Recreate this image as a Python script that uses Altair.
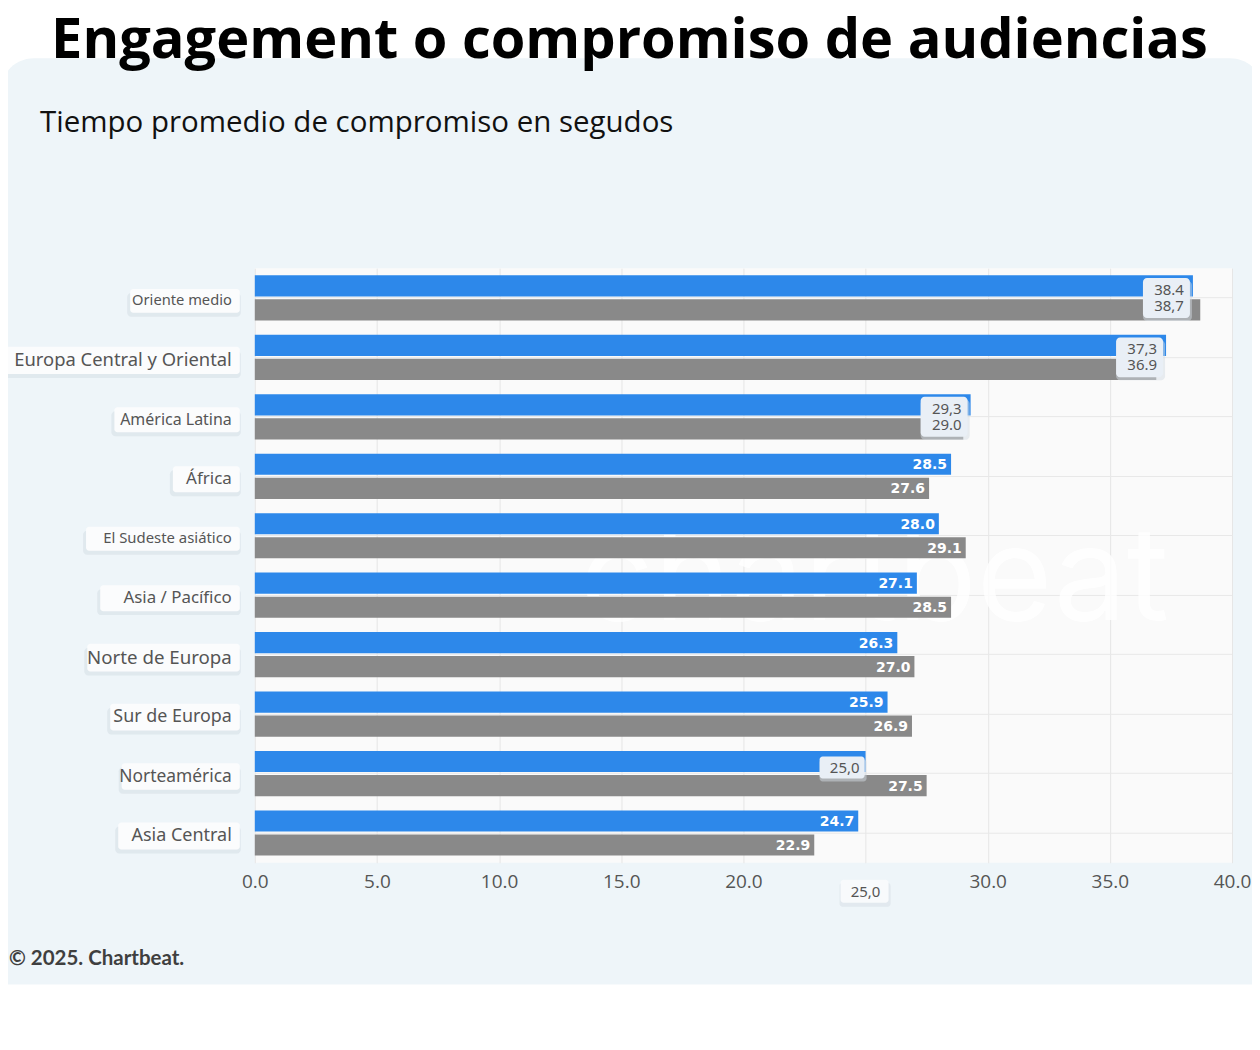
import altair as alt
import pandas as pd

# ---------------- data ----------------
categories = [
    "Oriente medio", "Europa Central y Oriental", "América Latina", "África",
    "El Sudeste asiático", "Asia / Pacífico", "Norte de Europa", "Sur de Europa",
    "Norteamérica", "Asia Central",
]
blue_values = [38.4, 37.3, 29.3, 28.5, 28.0, 27.1, 26.3, 25.9, 25.0, 24.7]
gray_values = [38.7, 36.9, 29.0, 27.6, 29.1, 28.5, 27.0, 26.9, 27.5, 22.9]
blue_labels = ["38.4", "37,3", "29,3", "28.5", "28.0", "27.1", "26.3", "25.9", "25,0", "24.7"]
gray_labels = ["38,7", "36.9", "29.0", "27.6", "29.1", "28.5", "27.0", "26.9", "27.5", "22.9"]
series = ["Serie A", "Serie B"]
x_ticks = [0, 5, 10, 15, 20, 25, 30, 35, 40]
override_tick_value = 25
override_tick_label = "25,0"

title_text = "Engagement o compromiso de audiencias"
subtitle_text = "Tiempo promedio de compromiso en segudos"
footer_text = "© 2025. Chartbeat."
watermark_text = "chartbeat"

# ---------------- style ----------------
W, H = 978, 595
PX = W / 40.0
BLUE, GRAY = "#2d88ea", "#898989"
PANEL = "#eef5f9"
boxed_pairs = ["Oriente medio", "Europa Central y Oriental", "América Latina"]
boxed_single_blue = ["Norteamérica"]
# font size of each category tag (the tags in the picture differ in size)
label_font_sizes = [14.7, 18.4, 16, 17, 14.9, 16.9, 18.7, 17.9, 17.4, 18]
CHAR_EM = 0.48  # approx average glyph width (em) for the tag font

rows = []
for c, bv, gv, bl, gl in zip(categories, blue_values, gray_values, blue_labels, gray_labels):
    boxed_b = c in boxed_pairs or c in boxed_single_blue
    boxed_g = c in boxed_pairs
    rows.append(dict(categoria=c, serie=series[0], valor=bv, etiqueta=bl, dentro=not boxed_b, ancla=bv,
                     par=c in boxed_pairs))
    rows.append(dict(categoria=c, serie=series[1], valor=gv, etiqueta=gl, dentro=not boxed_g, ancla=bv,
                     par=c in boxed_pairs))
df = pd.DataFrame(rows)

cat_df = pd.DataFrame({"categoria": categories})
cat_df["fs"] = label_font_sizes
cat_df["box_l"] = [-(23 + len(c) * CHAR_EM * fs + 10) / PX for c, fs in zip(categories, label_font_sizes)]
cat_df["box_r"] = -15 / PX
cat_df["bh"] = [fs + 9 for fs in label_font_sizes]

one = pd.DataFrame({"v": [override_tick_value], "lab": [override_tick_label]})

Y = alt.Y(
    "categoria:N", sort=categories, title=None,
    scale=alt.Scale(paddingInner=0.24, paddingOuter=0.12),
    axis=alt.Axis(labels=False, ticks=False, domain=False, grid=True, bandPosition=0.5,
                  gridColor="#e8e8e8", title=None),
)
X = alt.X(
    "valor:Q", title=None,
    scale=alt.Scale(domain=[0, 40], nice=False, zero=True),
    axis=alt.Axis(values=x_ticks, grid=True, gridColor="#e6e6e6", domain=False, ticks=False,
                  labelExpr="datum.value == 25 ? '' : format(datum.value, '.1f')",
                  labelFontSize=19, labelColor="#555555", labelFont="Open Sans",
                  labelFlush=False, labelPadding=10, title=None),
)
YOFF = alt.YOffset("serie:N", sort=series, scale=alt.Scale(paddingInner=0.12, paddingOuter=0))

base_one = alt.Chart(one)

# decorations outside plot
white_top = base_one.mark_rect(color="white").encode(
    x=alt.value(-260), x2=alt.value(1010), y=alt.value(-270), y2=alt.value(-195))
panel_top = base_one.mark_rect(color=PANEL, cornerRadius=34).encode(
    x=alt.value(-255), x2=alt.value(1010), y=alt.value(-210), y2=alt.value(-100))
white_bottom = base_one.mark_rect(color="white").encode(
    x=alt.value(-260), x2=alt.value(1010), y=alt.value(717), y2=alt.value(800))

watermark = base_one.mark_text(align="right", baseline="alphabetic", font="Inter", fontSize=130,
                               color="white", opacity=0.85, text=watermark_text).encode(
    x=alt.value(915), y=alt.value(352))

bars = alt.Chart(df).mark_bar().encode(
    x=X, y=Y, yOffset=YOFF,
    color=alt.Color("serie:N", scale=alt.Scale(domain=series, range=[BLUE, GRAY]), legend=None),
)

inside = alt.Chart(df).transform_filter("datum.dentro").mark_text(
    align="right", baseline="middle", dx=-4, dy=1, color="white", fontWeight="bold",
    font="DejaVu Sans", fontSize=14).encode(
    x=alt.X("valor:Q"), y=Y, yOffset=YOFF, text="etiqueta:N")

pair_src = alt.Chart(df).transform_filter("datum.par")
pair_shadow = pair_src.transform_filter(alt.datum.serie == series[0]).mark_bar(
    height=40, xOffset=-50, x2Offset=-1, yOffset=3, cornerRadius=4, color="#d3dbe3", opacity=0.5).encode(
    x=alt.X("ancla:Q"), x2="ancla:Q", y=Y)
pair_box = pair_src.transform_filter(alt.datum.serie == series[0]).mark_bar(
    height=40, xOffset=-50, x2Offset=-3, cornerRadius=4, color="#e9eff6").encode(
    x=alt.X("ancla:Q"), x2="ancla:Q", y=Y)
pair_text_b = pair_src.transform_filter(alt.datum.serie == series[0]).mark_text(
    align="right", baseline="middle", dx=-9, dy=-8, color="#555555", font="Noto Sans", fontSize=15).encode(
    x=alt.X("ancla:Q"), y=Y, text="etiqueta:N")
pair_text_g = pair_src.transform_filter(alt.datum.serie == series[1]).mark_text(
    align="right", baseline="middle", dx=-9, dy=8, color="#555555", font="Noto Sans", fontSize=15).encode(
    x=alt.X("ancla:Q"), y=Y, text="etiqueta:N")

single_src = alt.Chart(df).transform_filter(
    alt.FieldOneOfPredicate(field="categoria", oneOf=boxed_single_blue)).transform_filter(
    alt.datum.serie == series[0])
single_shadow = single_src.mark_bar(height=22, yOffset=-3, xOffset=-46, x2Offset=1, cornerRadius=3,
                                    color="#d3dbe3", opacity=0.5).encode(
    x=alt.X("ancla:Q"), x2="ancla:Q", y=Y)
single_box = single_src.mark_bar(height=22, yOffset=-6, xOffset=-46, x2Offset=-1, cornerRadius=3,
                                 color="#e9eff6").encode(
    x=alt.X("ancla:Q"), x2="ancla:Q", y=Y)
single_text = single_src.mark_text(align="right", baseline="middle", dx=-6, dy=-6, color="#555555",
                                   font="Noto Sans", fontSize=15).encode(
    x=alt.X("ancla:Q"), y=Y, text="etiqueta:N")

cat_shadow = alt.Chart(cat_df).mark_bar(yOffset=7, xOffset=-3, x2Offset=1, cornerRadius=4,
                                        color="#d6dee5", opacity=0.55).encode(
    x=alt.X("box_l:Q"), x2="box_r:Q", y=Y, size=alt.Size("bh:Q", scale=None, legend=None))
cat_box = alt.Chart(cat_df).mark_bar(yOffset=3, cornerRadius=3, color="#fbfcfd").encode(
    x=alt.X("box_l:Q"), x2="box_r:Q", y=Y, size=alt.Size("bh:Q", scale=None, legend=None))
cat_text = alt.Chart(cat_df).mark_text(align="right", baseline="middle", dy=3,
                                       color="#555555", font="Noto Sans").encode(
    x=alt.value(-23), y=Y, text="categoria:N", size=alt.Size("fs:Q", scale=None, legend=None))

tick_shadow = base_one.mark_bar(xOffset=-26, x2Offset=25, cornerRadius=3, color="#d6dee5",
                                opacity=0.5).encode(
    x=alt.X("v:Q"), x2="v:Q", y=alt.value(615), y2=alt.value(639))
tick_box = base_one.mark_bar(xOffset=-25, x2Offset=23, cornerRadius=3, color="#f8fafc").encode(
    x=alt.X("v:Q"), x2="v:Q", y=alt.value(612), y2=alt.value(635))
tick_text = base_one.mark_text(baseline="middle", fontSize=15, color="#555555", font="Noto Sans").encode(
    x=alt.X("v:Q"), y=alt.value(624), text="lab:N")

title = base_one.mark_text(align="center", baseline="alphabetic", font="Open Sans", fontSize=56,
                           fontWeight="bold", color="black", text=title_text).encode(
    x=alt.value(375), y=alt.value(-210))
subtitle = base_one.mark_text(align="left", baseline="alphabetic", font="Open Sans", fontSize=29.5,
                              color="#111111", text=subtitle_text).encode(
    x=alt.value(-215), y=alt.value(-136))
footer = base_one.mark_text(align="left", baseline="alphabetic", font="Lato", fontSize=20.5,
                            color="#3f3f3f", fontWeight="bold", text=footer_text).encode(
    x=alt.value(-246), y=alt.value(697))

chart = alt.layer(
    white_top, panel_top, white_bottom, watermark,
    bars, inside,
    pair_shadow, pair_box, pair_text_b, pair_text_g,
    single_shadow, single_box, single_text,
    cat_shadow, cat_box, cat_text,
    tick_shadow, tick_box, tick_text,
    title, subtitle, footer,
).properties(
    width=W, height=H,
    autosize=alt.AutoSizeParams(type="none"),
    padding={"left": 247, "top": 260, "right": 20, "bottom": 165},
    background=PANEL,
).configure_view(stroke=None, fill="#fafafa")

chart.save("out.html", embed_options={"renderer": "svg", "actions": False})
